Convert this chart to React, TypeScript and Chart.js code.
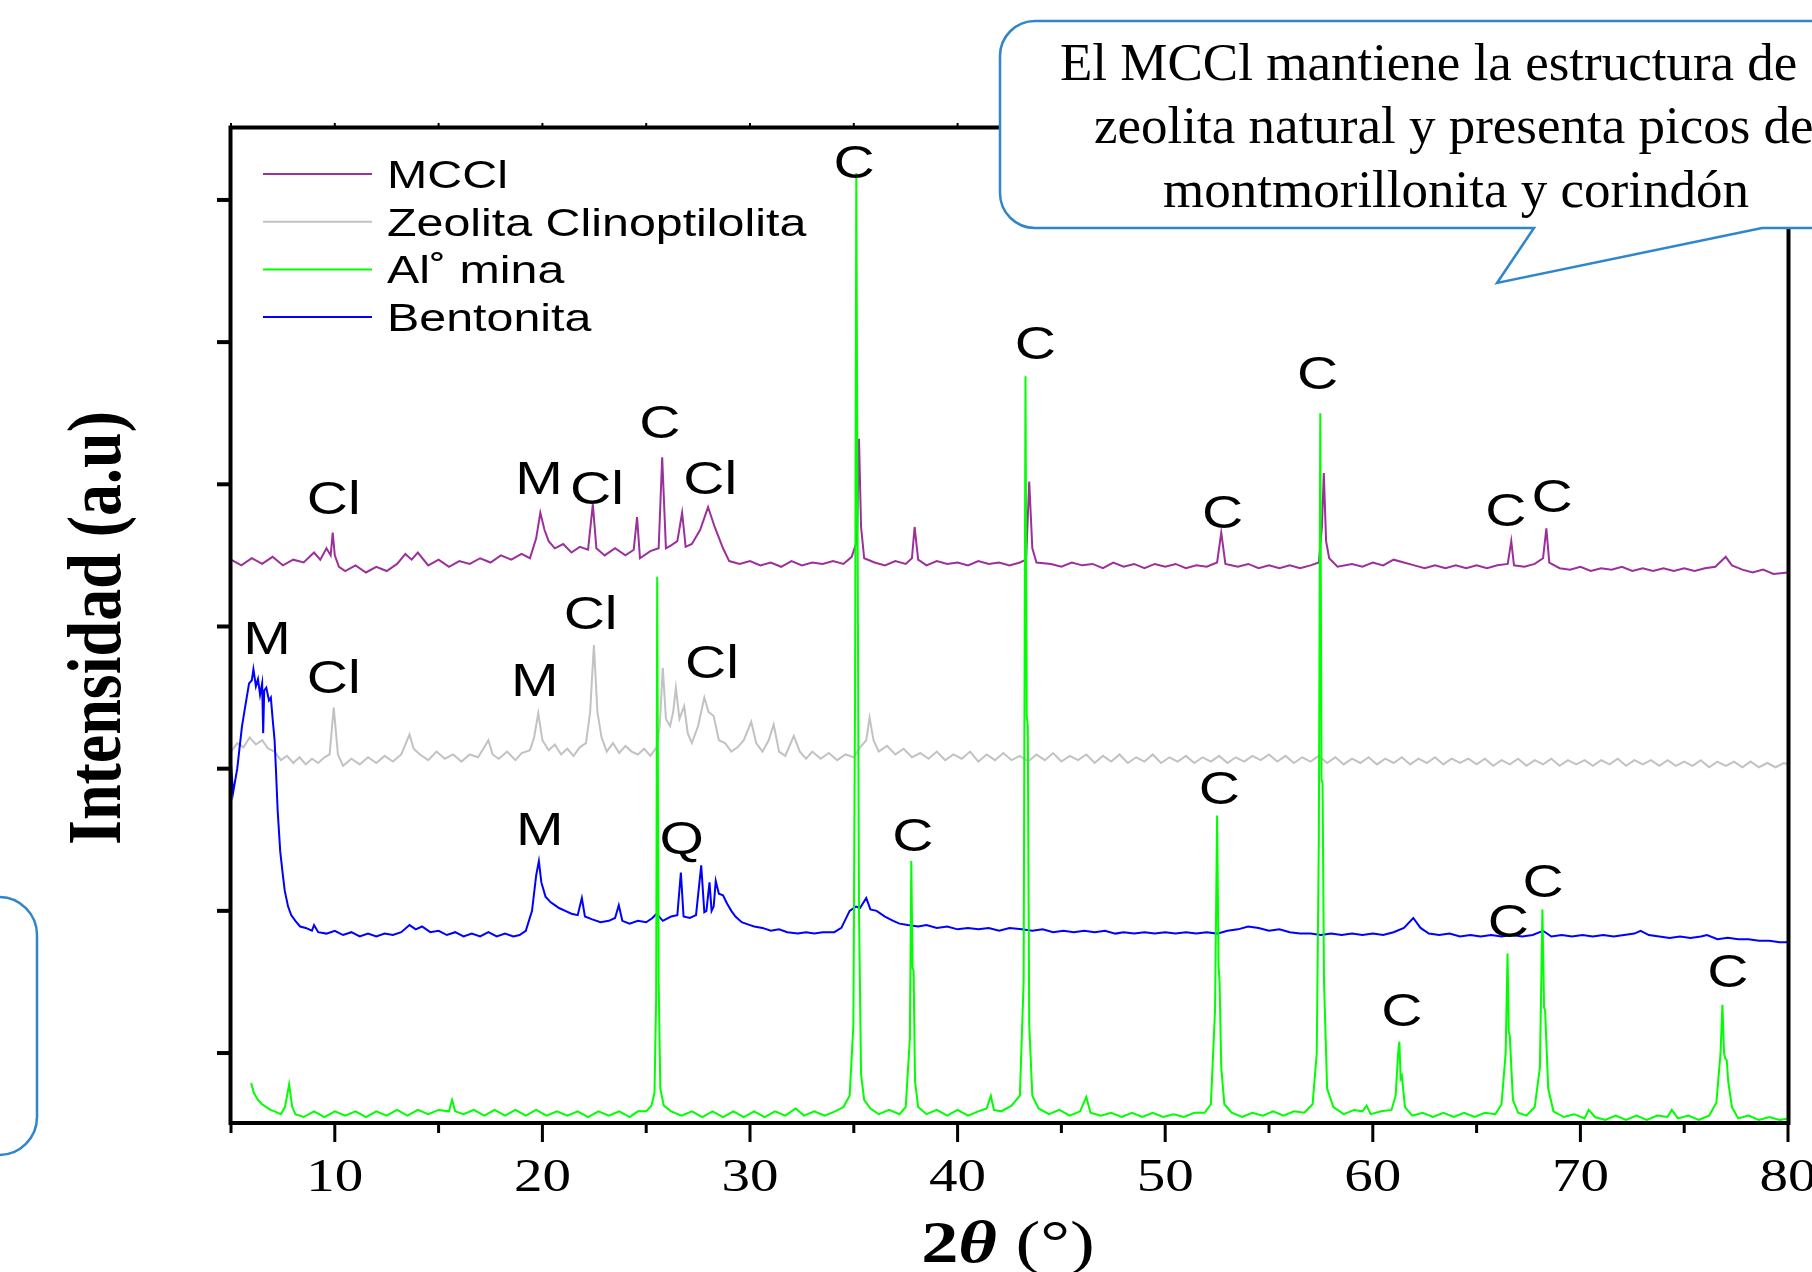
import React, { useEffect, useRef } from "react";
import { Chart, registerables } from "chart.js";

Chart.register(...registerables);

// ---------- data (2θ in degrees, intensity in a.u., stacked offsets included) ----------
const seriesNames = ["MCCl", "Zeolita Clinoptilolita", "Al˚ mina", "Bentonita"];
const seriesColors = ["#9b309b", "#c2c2c2", "#00ff00", "#0000ff"];

const mcclPattern: [number, number][] = [
  [5.0, 3.47], [5.5, 3.43], [6.0, 3.48], [6.5, 3.44], [7.0, 3.49], [7.5, 3.43], [8.0, 3.47], [8.5, 3.45],
  [9.0, 3.52], [9.3, 3.47], [9.6, 3.55], [9.8, 3.5], [9.9, 3.66], [10.0, 3.5], [10.2, 3.42], [10.5, 3.39],
  [11.0, 3.43], [11.5, 3.38], [12.0, 3.42], [12.5, 3.39], [13.0, 3.44], [13.4, 3.51], [13.7, 3.47], [14.0, 3.52],
  [14.5, 3.43], [15.0, 3.47], [15.5, 3.42], [16.0, 3.46], [16.5, 3.44], [17.0, 3.48], [17.5, 3.45], [18.0, 3.5],
  [18.5, 3.47], [19.0, 3.51], [19.4, 3.48], [19.7, 3.62], [19.9, 3.8], [20.1, 3.68], [20.3, 3.6], [20.6, 3.55],
  [21.0, 3.58], [21.4, 3.52], [21.8, 3.56], [22.2, 3.54], [22.43, 3.86], [22.6, 3.55], [23.0, 3.5], [23.5, 3.55],
  [24.0, 3.5], [24.4, 3.54], [24.56, 3.77], [24.7, 3.48], [25.2, 3.53], [25.6, 3.55], [25.77, 4.19], [25.95, 3.55],
  [26.2, 3.57], [26.5, 3.6], [26.73, 3.8], [26.9, 3.56], [27.2, 3.58], [27.6, 3.68], [27.98, 3.84], [28.3, 3.7],
  [28.7, 3.55], [29.0, 3.46], [29.5, 3.44], [30.0, 3.46], [30.5, 3.43], [31.0, 3.45], [31.5, 3.42], [32.0, 3.46],
  [32.5, 3.43], [33.0, 3.45], [33.5, 3.44], [34.0, 3.46], [34.5, 3.44], [34.9, 3.49], [35.15, 3.6], [35.25, 4.32],
  [35.35, 3.7], [35.5, 3.48], [36.0, 3.45], [36.5, 3.43], [37.0, 3.46], [37.5, 3.44], [37.8, 3.48], [37.93, 3.7],
  [38.1, 3.47], [38.5, 3.43], [39.0, 3.46], [39.5, 3.44], [40.0, 3.45], [40.5, 3.43], [41.0, 3.46], [41.5, 3.44],
  [42.0, 3.45], [42.5, 3.43], [43.0, 3.45], [43.3, 3.47], [43.45, 4.02], [43.6, 3.55], [43.8, 3.45], [44.5, 3.44],
  [45.0, 3.42], [45.5, 3.45], [46.0, 3.43], [46.5, 3.44], [47.0, 3.41], [47.5, 3.45], [48.0, 3.42], [48.5, 3.44],
  [49.0, 3.41], [49.5, 3.44], [50.0, 3.42], [50.5, 3.44], [51.0, 3.41], [51.5, 3.43], [52.0, 3.42], [52.5, 3.45],
  [52.7, 3.66], [52.9, 3.44], [53.5, 3.42], [54.0, 3.44], [54.5, 3.41], [55.0, 3.43], [55.5, 3.41], [56.0, 3.43],
  [56.5, 3.41], [57.0, 3.43], [57.4, 3.45], [57.55, 3.7], [57.64, 4.08], [57.75, 3.6], [57.9, 3.48], [58.3, 3.42],
  [59.0, 3.44], [59.5, 3.42], [60.0, 3.45], [60.5, 3.43], [61.0, 3.47], [61.5, 3.45], [62.0, 3.43], [62.5, 3.41],
  [63.0, 3.43], [63.5, 3.41], [64.0, 3.43], [64.5, 3.41], [65.0, 3.43], [65.5, 3.41], [66.0, 3.43], [66.5, 3.44],
  [66.67, 3.6], [66.8, 3.43], [67.3, 3.42], [67.8, 3.44], [68.2, 3.48], [68.36, 3.69], [68.5, 3.45], [69.0, 3.41],
  [69.5, 3.4], [70.0, 3.42], [70.5, 3.39], [71.0, 3.41], [71.5, 3.4], [72.0, 3.42], [72.5, 3.39], [73.0, 3.41],
  [73.5, 3.39], [74.0, 3.41], [74.5, 3.39], [75.0, 3.41], [75.5, 3.39], [76.0, 3.41], [76.5, 3.42], [77.0, 3.49],
  [77.3, 3.43], [77.8, 3.4], [78.3, 3.38], [78.8, 3.4], [79.3, 3.37], [80.0, 3.38],
];

const zeolitaPattern: [number, number][] = [
  [5.0, 2.12], [5.3, 2.18], [5.6, 2.15], [5.9, 2.22], [6.2, 2.17], [6.5, 2.2], [6.8, 2.14], [7.1, 2.12],
  [7.4, 2.06], [7.7, 2.09], [8.0, 2.04], [8.3, 2.08], [8.6, 2.03], [8.9, 2.07], [9.2, 2.04], [9.5, 2.08],
  [9.75, 2.1], [9.95, 2.43], [10.15, 2.1], [10.4, 2.02], [10.8, 2.07], [11.2, 2.03], [11.6, 2.08], [12.0, 2.04],
  [12.4, 2.09], [12.8, 2.05], [13.2, 2.1], [13.6, 2.24], [13.8, 2.14], [14.1, 2.1], [14.5, 2.06], [14.9, 2.12],
  [15.3, 2.07], [15.7, 2.1], [16.1, 2.05], [16.5, 2.1], [16.9, 2.08], [17.2, 2.15], [17.4, 2.2], [17.6, 2.1],
  [17.9, 2.07], [18.3, 2.12], [18.7, 2.06], [19.0, 2.11], [19.4, 2.13], [19.6, 2.22], [19.8, 2.39], [20.0, 2.2],
  [20.3, 2.13], [20.6, 2.17], [20.9, 2.1], [21.2, 2.14], [21.5, 2.09], [21.8, 2.15], [22.1, 2.18], [22.3, 2.4],
  [22.48, 2.87], [22.65, 2.4], [22.85, 2.22], [23.1, 2.12], [23.4, 2.18], [23.7, 2.11], [24.0, 2.16], [24.3, 2.12],
  [24.6, 2.1], [24.9, 2.14], [25.2, 2.09], [25.5, 2.15], [25.65, 2.3], [25.8, 2.71], [25.95, 2.35], [26.15, 2.3],
  [26.3, 2.4], [26.43, 2.57], [26.6, 2.35], [26.83, 2.44], [27.0, 2.25], [27.2, 2.18], [27.5, 2.3], [27.8, 2.5],
  [28.0, 2.4], [28.25, 2.37], [28.5, 2.2], [28.8, 2.18], [29.1, 2.12], [29.4, 2.15], [29.7, 2.2], [30.06, 2.33],
  [30.3, 2.18], [30.6, 2.12], [30.9, 2.2], [31.14, 2.31], [31.4, 2.12], [31.7, 2.09], [32.11, 2.23], [32.4, 2.12],
  [32.7, 2.07], [33.0, 2.12], [33.4, 2.07], [33.8, 2.11], [34.2, 2.06], [34.6, 2.1], [35.0, 2.08], [35.3, 2.15],
  [35.6, 2.2], [35.76, 2.36], [35.95, 2.2], [36.2, 2.12], [36.6, 2.16], [37.0, 2.1], [37.4, 2.14], [37.8, 2.08],
  [38.2, 2.11], [38.6, 2.07], [39.0, 2.12], [39.4, 2.06], [39.8, 2.1], [40.2, 2.07], [40.6, 2.12], [41.0, 2.05],
  [41.4, 2.1], [41.8, 2.06], [42.2, 2.11], [42.6, 2.06], [43.0, 2.09], [43.4, 2.05], [43.8, 2.1], [44.2, 2.06],
  [44.6, 2.11], [45.0, 2.05], [45.4, 2.09], [45.8, 2.06], [46.2, 2.1], [46.6, 2.04], [47.0, 2.09], [47.4, 2.05],
  [47.8, 2.1], [48.2, 2.04], [48.6, 2.08], [49.0, 2.05], [49.4, 2.1], [49.8, 2.04], [50.2, 2.08], [50.6, 2.05],
  [51.0, 2.09], [51.4, 2.04], [51.8, 2.08], [52.2, 2.05], [52.6, 2.09], [53.0, 2.04], [53.4, 2.08], [53.8, 2.05],
  [54.2, 2.09], [54.6, 2.06], [55.0, 2.1], [55.4, 2.05], [55.8, 2.09], [56.2, 2.04], [56.6, 2.08], [57.0, 2.05],
  [57.4, 2.09], [57.8, 2.04], [58.2, 2.08], [58.6, 2.03], [59.0, 2.07], [59.4, 2.04], [59.8, 2.08], [60.2, 2.03],
  [60.6, 2.07], [61.0, 2.04], [61.4, 2.08], [61.8, 2.03], [62.2, 2.07], [62.6, 2.04], [63.0, 2.08], [63.4, 2.03],
  [63.8, 2.07], [64.2, 2.04], [64.6, 2.07], [65.0, 2.03], [65.4, 2.07], [65.8, 2.02], [66.2, 2.06], [66.6, 2.03],
  [67.0, 2.07], [67.4, 2.02], [67.8, 2.06], [68.2, 2.03], [68.6, 2.07], [69.0, 2.02], [69.4, 2.06], [69.8, 2.03],
  [70.2, 2.06], [70.6, 2.02], [71.0, 2.06], [71.4, 2.03], [71.8, 2.07], [72.2, 2.02], [72.6, 2.06], [73.0, 2.03],
  [73.4, 2.06], [73.8, 2.02], [74.2, 2.06], [74.6, 2.02], [75.0, 2.05], [75.4, 2.02], [75.8, 2.06], [76.2, 2.01],
  [76.6, 2.05], [77.0, 2.02], [77.4, 2.05], [77.8, 2.01], [78.2, 2.05], [78.6, 2.01], [79.0, 2.04], [79.4, 2.01],
  [79.8, 2.04], [80.0, 2.03],
];

const aluminaPattern: [number, number][] = [
  [5.97, -0.21], [6.1, -0.28], [6.3, -0.33], [6.5, -0.36], [6.7, -0.38], [6.9, -0.4], [7.1, -0.41], [7.4, -0.43],
  [7.6, -0.38], [7.8, -0.22], [7.95, -0.38], [8.1, -0.43], [8.5, -0.45], [9.0, -0.41], [9.5, -0.45], [10.0, -0.41],
  [10.5, -0.44], [11.0, -0.41], [11.5, -0.45], [12.0, -0.41], [12.5, -0.44], [13.0, -0.4], [13.5, -0.44], [14.0, -0.4],
  [14.5, -0.43], [15.0, -0.4], [15.5, -0.41], [15.65, -0.33], [15.8, -0.41], [16.2, -0.43], [16.7, -0.4], [17.2, -0.44],
  [17.7, -0.4], [18.2, -0.44], [18.7, -0.4], [19.2, -0.44], [19.7, -0.4], [20.2, -0.44], [20.7, -0.41], [21.2, -0.44],
  [21.7, -0.41], [22.2, -0.45], [22.7, -0.41], [23.2, -0.44], [23.7, -0.41], [24.2, -0.45], [24.6, -0.41], [25.0, -0.41],
  [25.25, -0.37], [25.4, -0.28], [25.48, 0.4], [25.53, 3.35], [25.6, 0.5], [25.68, -0.25], [25.85, -0.37], [26.2, -0.41],
  [26.7, -0.44], [27.2, -0.41], [27.7, -0.45], [28.2, -0.41], [28.7, -0.45], [29.2, -0.41], [29.7, -0.45], [30.2, -0.41],
  [30.7, -0.45], [31.2, -0.41], [31.7, -0.44], [32.2, -0.39], [32.6, -0.44], [33.1, -0.41], [33.6, -0.44], [34.1, -0.41],
  [34.5, -0.38], [34.8, -0.3], [34.98, 0.2], [35.06, 2.5], [35.12, 6.19], [35.2, 3.0], [35.25, 1.0], [35.35, -0.15],
  [35.5, -0.33], [35.8, -0.39], [36.2, -0.43], [36.7, -0.4], [37.2, -0.43], [37.5, -0.38], [37.7, 0.1], [37.77, 1.35],
  [37.83, 0.6], [37.88, 0.58], [37.95, -0.2], [38.1, -0.38], [38.5, -0.43], [39.0, -0.4], [39.5, -0.44], [40.0, -0.4],
  [40.5, -0.44], [41.0, -0.41], [41.4, -0.39], [41.6, -0.3], [41.75, -0.4], [42.1, -0.41], [42.6, -0.37], [43.0, -0.3],
  [43.18, 0.5], [43.27, 4.76], [43.33, 2.37], [43.38, 2.3], [43.45, 0.2], [43.6, -0.3], [43.9, -0.39], [44.4, -0.43],
  [44.9, -0.4], [45.4, -0.44], [45.9, -0.41], [46.2, -0.31], [46.4, -0.42], [46.9, -0.44], [47.4, -0.42], [47.9, -0.45],
  [48.4, -0.42], [48.9, -0.45], [49.4, -0.42], [49.9, -0.45], [50.4, -0.43], [50.9, -0.45], [51.4, -0.42], [51.9, -0.42],
  [52.2, -0.36], [52.4, 0.3], [52.5, 1.67], [52.57, 0.61], [52.62, 0.5], [52.7, -0.1], [52.85, -0.36], [53.2, -0.42],
  [53.7, -0.45], [54.2, -0.42], [54.7, -0.44], [55.2, -0.41], [55.7, -0.44], [56.2, -0.41], [56.7, -0.42], [57.1, -0.36],
  [57.3, 0.0], [57.4, 1.5], [57.47, 4.5], [57.53, 1.92], [57.58, 1.9], [57.65, 0.5], [57.8, -0.25], [58.1, -0.38],
  [58.6, -0.43], [59.1, -0.4], [59.5, -0.41], [59.7, -0.37], [59.9, -0.43], [60.4, -0.41], [60.9, -0.4], [61.1, -0.3],
  [61.22, 0.0], [61.28, 0.08], [61.34, -0.18], [61.4, -0.16], [61.55, -0.38], [61.9, -0.44], [62.4, -0.42], [62.9, -0.45],
  [63.4, -0.42], [63.9, -0.45], [64.4, -0.42], [64.9, -0.45], [65.4, -0.42], [65.9, -0.43], [66.2, -0.36], [66.4, 0.0],
  [66.49, 0.7], [66.55, 0.15], [66.6, 0.12], [66.75, -0.33], [67.0, -0.42], [67.4, -0.44], [67.8, -0.38], [68.05, -0.1],
  [68.17, 1.01], [68.25, 0.32], [68.3, 0.3], [68.45, -0.25], [68.7, -0.41], [69.2, -0.45], [69.7, -0.43], [70.2, -0.46],
  [70.4, -0.4], [70.7, -0.45], [71.2, -0.47], [71.7, -0.44], [72.2, -0.47], [72.7, -0.44], [73.2, -0.47], [73.7, -0.44],
  [74.2, -0.45], [74.4, -0.4], [74.7, -0.46], [75.2, -0.44], [75.7, -0.47], [76.2, -0.44], [76.55, -0.35], [76.75, 0.0],
  [76.84, 0.34], [76.92, 0.0], [76.98, -0.04], [77.05, -0.05], [77.12, -0.2], [77.2, -0.28], [77.3, -0.38], [77.6, -0.46],
  [78.1, -0.44], [78.6, -0.47], [79.1, -0.45], [79.6, -0.47], [80.0, -0.46],
];

const bentonitaPattern: [number, number][] = [
  [5.0, 2.03], [5.1, 1.83], [5.3, 2.0], [5.53, 2.3], [5.7, 2.45], [5.87, 2.6], [6.0, 2.62], [6.08, 2.7],
  [6.2, 2.58], [6.3, 2.63], [6.4, 2.52], [6.5, 2.6], [6.55, 2.25], [6.6, 2.55], [6.7, 2.57], [6.83, 2.48],
  [6.92, 2.5], [7.0, 2.36], [7.1, 2.2], [7.16, 2.01], [7.25, 1.7], [7.37, 1.42], [7.5, 1.25], [7.59, 1.14],
  [7.75, 1.03], [7.9, 0.97], [8.1, 0.93], [8.33, 0.89], [8.6, 0.88], [8.9, 0.86], [9.0, 0.9], [9.2, 0.85],
  [9.6, 0.84], [10.0, 0.86], [10.4, 0.83], [10.8, 0.85], [11.2, 0.82], [11.6, 0.84], [12.0, 0.82], [12.4, 0.84],
  [12.8, 0.83], [13.2, 0.85], [13.6, 0.9], [13.9, 0.87], [14.2, 0.89], [14.6, 0.85], [15.0, 0.86], [15.4, 0.83],
  [15.8, 0.85], [16.2, 0.82], [16.6, 0.84], [17.0, 0.82], [17.4, 0.85], [17.8, 0.82], [18.2, 0.84], [18.6, 0.82],
  [18.9, 0.83], [19.2, 0.86], [19.5, 1.0], [19.7, 1.25], [19.83, 1.35], [19.95, 1.2], [20.15, 1.1], [20.4, 1.06],
  [20.6, 1.04], [20.8, 1.02], [21.1, 1.0], [21.4, 0.98], [21.7, 0.97], [21.9, 1.09], [22.05, 0.96], [22.4, 0.94],
  [22.8, 0.92], [23.2, 0.93], [23.5, 0.95], [23.68, 1.04], [23.85, 0.93], [24.2, 0.91], [24.6, 0.93], [25.0, 0.92],
  [25.3, 0.95], [25.5, 0.98], [25.8, 0.93], [26.2, 0.96], [26.5, 0.97], [26.67, 1.27], [26.8, 0.96], [27.1, 0.95],
  [27.4, 0.97], [27.65, 1.32], [27.8, 0.99], [27.9, 1.0], [28.05, 1.2], [28.15, 1.0], [28.25, 1.03], [28.35, 1.21],
  [28.5, 1.12], [28.7, 1.11], [28.9, 1.05], [29.1, 1.0], [29.3, 0.96], [29.6, 0.92], [30.0, 0.9], [30.2, 0.89],
  [30.6, 0.88], [31.0, 0.86], [31.4, 0.87], [31.8, 0.85], [32.3, 0.84], [32.7, 0.85], [33.1, 0.84], [33.5, 0.85],
  [34.06, 0.85], [34.4, 0.88], [34.8, 1.0], [35.1, 1.03], [35.3, 1.02], [35.6, 1.09], [35.8, 1.01], [36.1, 1.0],
  [36.5, 0.96], [36.9, 0.93], [37.2, 0.91], [37.6, 0.9], [38.1, 0.89], [38.5, 0.9], [39.0, 0.88], [39.5, 0.89],
  [40.0, 0.87], [40.5, 0.88], [41.0, 0.87], [41.5, 0.88], [42.0, 0.86], [42.5, 0.88], [43.1, 0.87], [43.6, 0.86],
  [44.1, 0.87], [44.6, 0.85], [45.1, 0.86], [45.6, 0.85], [46.1, 0.86], [46.6, 0.85], [47.1, 0.86], [47.6, 0.84],
  [48.0, 0.85], [48.5, 0.84], [49.0, 0.85], [49.5, 0.84], [50.0, 0.85], [50.5, 0.84], [51.0, 0.85], [51.5, 0.84],
  [52.0, 0.85], [52.5, 0.84], [53.0, 0.86], [53.5, 0.87], [54.0, 0.89], [54.5, 0.88], [55.0, 0.86], [55.5, 0.87],
  [56.0, 0.85], [56.5, 0.84], [57.0, 0.84], [57.5, 0.83], [58.0, 0.84], [58.5, 0.83], [59.0, 0.84], [59.5, 0.83],
  [60.0, 0.84], [60.5, 0.83], [61.0, 0.85], [61.5, 0.88], [61.95, 0.95], [62.3, 0.88], [62.7, 0.84], [63.2, 0.83],
  [63.7, 0.84], [64.2, 0.82], [64.7, 0.83], [65.2, 0.82], [65.7, 0.83], [66.2, 0.82], [66.7, 0.83], [67.2, 0.82],
  [67.7, 0.83], [68.2, 0.86], [68.6, 0.82], [69.1, 0.83], [69.6, 0.82], [70.1, 0.83], [70.6, 0.82], [71.1, 0.83],
  [71.6, 0.82], [72.1, 0.83], [72.6, 0.84], [72.9, 0.86], [73.3, 0.83], [73.8, 0.82], [74.3, 0.81], [74.8, 0.82],
  [75.3, 0.81], [75.8, 0.82], [76.1, 0.83], [76.6, 0.8], [77.1, 0.81], [77.6, 0.8], [78.1, 0.8], [78.6, 0.79],
  [79.1, 0.79], [79.6, 0.78], [80.0, 0.78],
];

// phase labels: text, 2θ position, intensity level (label centre)
const peakLabels = ["C", "Cl", "M", "Cl", "C", "Cl", "C", "C", "C", "C", "C", "M", "Cl", "M", "Cl", "Cl", "M", "Q", "C", "C", "C", "C", "C", "C"];
const peakLabelTheta = [35.01, 9.95, 19.84, 22.63, 25.66, 28.08, 43.75, 57.34, 52.77, 66.41, 68.64, 6.73, 9.95, 19.63, 22.32, 28.17, 19.87, 26.71, 37.85, 52.61, 68.2, 66.53, 61.4, 77.1];
const peakLabelLevel = [6.27, 3.906, 4.046, 3.976, 4.443, 4.046, 4.995, 4.784, 3.808, 3.825, 3.922, 2.92, 2.648, 2.625, 3.096, 2.754, 1.581, 1.516, 1.54, 1.865, 1.215, 0.93, 0.304, 0.581];

const xMajorTicks = [10, 20, 30, 40, 50, 60, 70, 80];
const xMinorTicks = [5, 15, 25, 35, 45, 55, 65, 75];
const yTicks = [0, 1, 2, 3, 4, 5, 6];

const yAxisTitle = "Intensidad (a.u)";
const calloutLines = [
  "El MCCl mantiene la estructura de",
  "zeolita natural y presenta picos de",
  "montmorillonita y corindón",
];

const SANS = '"Liberation Sans", Arial, sans-serif';
const SERIF = '"Liberation Serif", "Times New Roman", serif';
const STRETCH = 1.24;

function stretchedText(ctx: CanvasRenderingContext2D, text: string, x: number, y: number, font: string, align: CanvasTextAlign, sx: number) {
  ctx.save();
  ctx.font = font;
  ctx.textAlign = align;
  ctx.textBaseline = "alphabetic";
  ctx.translate(x, y);
  ctx.scale(sx, 1);
  ctx.fillText(text, 0, 0);
  ctx.restore();
}

const overlayPlugin = {
  id: "xrdOverlay",
  afterDraw(chart: any) {
    const ctx: CanvasRenderingContext2D = chart.ctx;
    const xs = chart.scales.x;
    const ys = chart.scales.y;
    const { left, right, top, bottom } = chart.chartArea;
    ctx.save();
    ctx.fillStyle = "#000";
    ctx.strokeStyle = "#000";

    // frame
    ctx.lineWidth = 4;
    ctx.beginPath();
    ctx.moveTo(left - 0.5, top + 0.5);
    ctx.lineTo(right + 0.5, top + 0.5);
    ctx.lineTo(right + 0.5, bottom + 1);
    ctx.lineTo(left - 0.5, bottom + 1);
    ctx.closePath();
    ctx.stroke();

    // y ticks (outward, no labels)
    ctx.lineWidth = 4;
    for (const v of yTicks) {
      const y = ys.getPixelForValue(v);
      ctx.beginPath();
      ctx.moveTo(left - 14, y);
      ctx.lineTo(left, y);
      ctx.stroke();
    }

    // x ticks
    ctx.lineWidth = 3;
    for (const v of xMajorTicks) {
      const x = xs.getPixelForValue(v);
      ctx.beginPath();
      ctx.moveTo(x, bottom);
      ctx.lineTo(x, bottom + 20);
      ctx.stroke();
    }
    for (const v of xMinorTicks) {
      const x = xs.getPixelForValue(v);
      ctx.beginPath();
      ctx.moveTo(x, bottom);
      ctx.lineTo(x, bottom + 11);
      ctx.stroke();
    }
    ctx.lineWidth = 2;
    for (const v of [...xMajorTicks, ...xMinorTicks]) {
      const x = xs.getPixelForValue(v);
      ctx.beginPath();
      ctx.moveTo(x, top);
      ctx.lineTo(x, top - 4);
      ctx.stroke();
    }

    // x tick labels
    for (const v of xMajorTicks) {
      stretchedText(ctx, String(v), xs.getPixelForValue(v), bottom + 69, `46px ${SERIF}`, "center", STRETCH);
    }

    // axis titles
    ctx.save();
    ctx.font = `bold 64px ${SERIF}`;
    ctx.textAlign = "center";
    ctx.textBaseline = "alphabetic";
    ctx.translate(120, 628);
    ctx.rotate(-Math.PI / 2);
    ctx.scale(1, 1.2);
    ctx.fillText(yAxisTitle, 0, 0);
    ctx.restore();

    {
      const f1 = `bold 60px ${SERIF}`;
      const f2 = `italic bold 60px ${SERIF}`;
      const f3 = `60px ${SERIF}`;
      const parts: [string, string][] = [["2", f1], ["θ", f2], [" (°)", f3]];
      let total = 0;
      const widths: number[] = [];
      for (const [t, f] of parts) {
        ctx.font = f;
        const w = ctx.measureText(t).width * STRETCH;
        widths.push(w);
        total += w;
      }
      let x = 1008 - total / 2;
      parts.forEach(([t, f], i) => {
        stretchedText(ctx, t, x, 1262, f, "left", STRETCH);
        x += widths[i];
      });
    }

    // phase labels
    peakLabels.forEach((t, i) => {
      const x = xs.getPixelForValue(peakLabelTheta[i]);
      const y = ys.getPixelForValue(peakLabelLevel[i]) + 16.5;
      stretchedText(ctx, t, x, y, `46px ${SANS}`, "center", STRETCH);
    });

    // legend
    seriesNames.forEach((name, i) => {
      const cy = 174 + i * 47.7;
      ctx.strokeStyle = seriesColors[i];
      ctx.lineWidth = 2;
      ctx.beginPath();
      ctx.moveTo(263, cy);
      ctx.lineTo(372, cy);
      ctx.stroke();
      ctx.fillStyle = "#000";
      stretchedText(ctx, name, 387, cy + 14, `39px ${SANS}`, "left", STRETCH);
    });

    // callout bubble (top right)
    ctx.strokeStyle = "#2f86cc";
    ctx.lineWidth = 2.5;
    ctx.fillStyle = "#fff";
    const r = 35;
    ctx.beginPath();
    ctx.moveTo(1000 + r, 21);
    ctx.lineTo(1840, 21);
    ctx.lineTo(1840, 228);
    ctx.lineTo(1762, 228);
    ctx.lineTo(1497, 283);
    ctx.lineTo(1534, 228);
    ctx.lineTo(1000 + r, 228);
    ctx.arcTo(1000, 228, 1000, 228 - r, r);
    ctx.lineTo(1000, 21 + r);
    ctx.arcTo(1000, 21, 1000 + r, 21, r);
    ctx.closePath();
    ctx.fill();
    ctx.stroke();

    ctx.fillStyle = "#000";
    ctx.font = `53px ${SERIF}`;
    ctx.textBaseline = "alphabetic";
    ctx.textAlign = "left";
    ctx.fillText(calloutLines[0], 1060, 80);
    ctx.fillText(calloutLines[1], 1094, 143);
    ctx.textAlign = "center";
    ctx.fillText(calloutLines[2], 1456, 207);

    // partial box at lower left
    const r2 = 38;
    ctx.strokeStyle = "#2f86cc";
    ctx.lineWidth = 2.5;
    ctx.beginPath();
    ctx.moveTo(-10, 897);
    ctx.lineTo(37 - r2, 897);
    ctx.arcTo(37, 897, 37, 897 + r2, r2);
    ctx.lineTo(37, 1155 - r2);
    ctx.arcTo(37, 1155, 37 - r2, 1155, r2);
    ctx.lineTo(-10, 1155);
    ctx.stroke();

    ctx.restore();
  },
};

export default function App() {
  const canvasRef = useRef<HTMLCanvasElement | null>(null);

  useEffect(() => {
    if (!canvasRef.current) return;
    const patterns = [mcclPattern, zeolitaPattern, aluminaPattern, bentonitaPattern];
    const drawOrder = [2, 3, 0, 1];
    const chart = new Chart(canvasRef.current, {
      type: "line",
      data: {
        datasets: patterns.map((p, i) => ({
          label: seriesNames[i],
          data: p.map(([x, y]) => ({ x, y })),
          borderColor: seriesColors[i],
          backgroundColor: seriesColors[i],
          borderWidth: 2,
          pointRadius: 0,
          tension: 0,
          fill: false,
          order: drawOrder[i],
        })),
      },
      options: {
        animation: false,
        responsive: false,
        maintainAspectRatio: false,
        devicePixelRatio: 1,
        layout: { padding: { left: 231, right: 24, top: 127, bottom: 150 } },
        scales: {
          x: { type: "linear", min: 5, max: 80, display: false },
          y: { type: "linear", min: -0.485, max: 6.513, display: false },
        },
        plugins: {
          legend: { display: false },
          tooltip: { enabled: false },
        },
      },
      plugins: [overlayPlugin],
    } as any);
    return () => chart.destroy();
  }, []);

  return (
    <div style={{ position: "fixed", left: 0, top: 0, width: 1812, height: 1272, background: "#fff" }}>
      <canvas ref={canvasRef} width={1812} height={1272} style={{ width: 1812, height: 1272, display: "block" }} />
    </div>
  );
}
